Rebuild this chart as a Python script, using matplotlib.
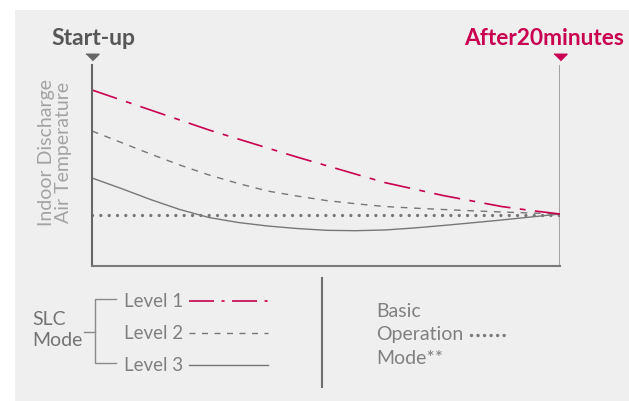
import matplotlib as mpl
mpl.use('Agg')
import matplotlib.pyplot as plt
from matplotlib.patches import Rectangle

plt.rcParams['font.family'] = ['Lato', 'DejaVu Sans']
plt.rcParams['lines.scale_dashes'] = False

# minutes after start-up, temperature in arbitrary units
minutes = [0, 1.25, 2.5, 3.75, 5, 6.25, 7.5, 8.75, 10, 11.25, 12.5, 13.75, 15, 16.25, 17.5, 18.75, 20]
level1 = [176, 166, 156, 146, 136, 127, 118, 109, 100.5, 92, 83.5, 77, 70.5, 65, 59.5, 55.5, 52]
level2 = [135, 123.5, 112, 101, 91, 82.5, 75, 70, 65.5, 62.3, 59.5, 57.9, 56.5, 55.2, 54, 53, 52]
level3 = [88, 77.5, 66.5, 56.5, 48.5, 43.5, 40, 37.5, 35.7, 35.3, 36, 38, 40.5, 43.2, 46, 49, 52]
basic = [51.5] * len(minutes)

level_names = ['Level 1', 'Level 2', 'Level 3']

RED = '#c9004f'
GRAY = '#777777'
TXT = '#808080'
W, H = 629, 401

fig = plt.figure(figsize=(W / 100, H / 100), dpi=100, facecolor='white')

# overlay in pixel coordinates for background and legend block
ov = fig.add_axes([0, 0, 1, 1])
ov.set_xlim(0, W)
ov.set_ylim(H, 0)
ov.axis('off')
ov.add_patch(Rectangle((15, 10), W - 15, H - 10, facecolor='#efefef', edgecolor='none'))

ax = fig.add_axes([92 / W, 1 - 266 / H, (560 - 92) / W, (266 - 65) / H])
ax.set_facecolor('none')
ax.set_xlim(0, 20)
ax.set_ylim(0, 201)
ax.set_xticks([])
ax.set_yticks([])
for s in ['top', 'right']:
    ax.spines[s].set_visible(False)
ax.spines['left'].set_color('#666666')
ax.spines['left'].set_linewidth(1.5)
ax.spines['bottom'].set_color('#7a7a7a')
ax.spines['bottom'].set_linewidth(1.5)
ax.axvline(20, color='#a5a5a5', lw=1.5)

ax.plot(minutes, basic, color=GRAY, lw=2.4, dashes=(0.001, 6), dash_capstyle='round')
ax.plot(minutes, level3, color=GRAY, lw=1.0)
ax.plot(minutes, level2, color=GRAY, lw=1.0, dashes=(4.8, 4.8))
ax.plot(minutes, level1, color=RED, lw=1.2, dashes=(19, 6.8, 4.2, 6.8))

tri = [(-1, 0.5), (1, 0.5), (0, -0.5)]
ax.plot([0], [209.5], marker=tri, markersize=9.4, color='#666666', clip_on=False, ls='none')
ax.plot([20], [209.5], marker=tri, markersize=9.4, color=RED, clip_on=False, ls='none')

ax.text(0.05, 221, 'Start-up', ha='center', va='baseline', fontsize=16.5, fontweight='bold', color='#575757')
ax.text(19.34, 221, 'After20minutes', ha='center', va='baseline', fontsize=16.3, fontweight='bold', color=RED)

ov.text(55, 152, 'Indoor Discharge\nAir Temperature', rotation=90, ha='center', va='center',
        multialignment='center', fontsize=14, color='#a3a3a3', linespacing=0.95)

# legend block
ov.text(32, 325, 'SLC', ha='left', va='baseline', fontsize=14, color='#737373')
ov.text(32, 346, 'Mode', ha='left', va='baseline', fontsize=14, color='#737373')
ov.plot([84, 95], [332, 332], color='#8a8a8a', lw=1.0)
ov.plot([116, 95, 95, 116], [299, 299, 363, 363], color='#8a8a8a', lw=1.0)

base = [307, 339, 371]
styles = [dict(color=RED, lw=1.2, dashes=(18, 5.4, 2.2, 5.4)),
          dict(color=GRAY, lw=1.0, dashes=(4.3, 4.7)),
          dict(color=GRAY, lw=1.0)]
for name, b, st in zip(level_names, base, styles):
    ov.text(124, b, name, ha='left', va='baseline', fontsize=13.5, color=TXT)
    ov.plot([189, 268], [b - 6.5, b - 6.5], **st)

ov.plot([322, 322], [278, 387], color='#6e6e6e', lw=1.5)
ov.text(376, 317, 'Basic', ha='left', va='baseline', fontsize=14, color=TXT)
ov.text(376, 340, 'Operation', ha='left', va='baseline', fontsize=14, color=TXT)
ov.text(376, 364, 'Mode**', ha='left', va='baseline', fontsize=14, color=TXT)
ov.plot([471, 510], [335, 335], color='#7a7a7a', lw=2.5, dashes=(0.001, 4.7), dash_capstyle='round')

fig.savefig('out.png', dpi=100, facecolor='white')
